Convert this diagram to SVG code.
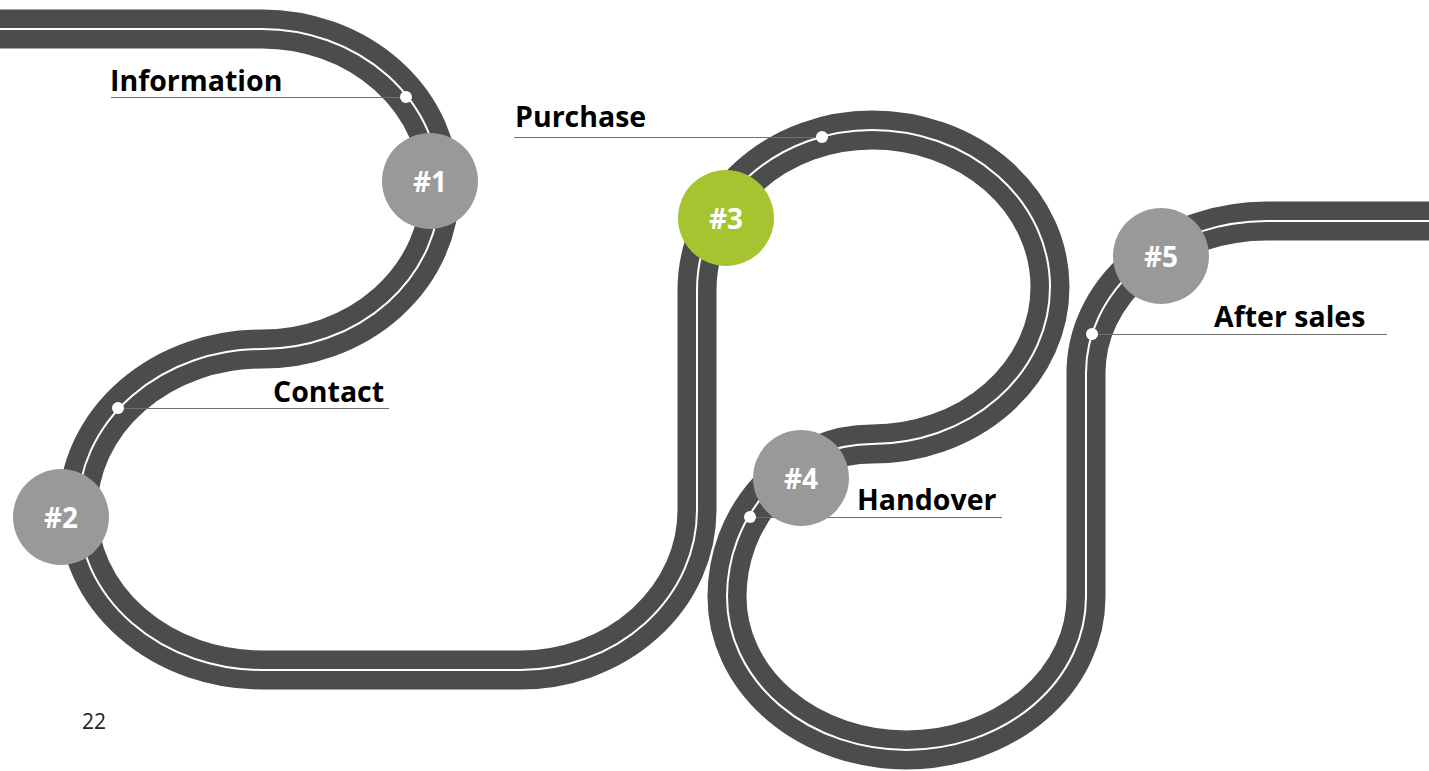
<svg xmlns="http://www.w3.org/2000/svg" width="1429" height="771" viewBox="0 0 1429 771">
<style>
.road{fill:none;stroke:#4b4d4c;stroke-width:39}
.lane{fill:none;stroke:#ffffff;stroke-width:2}
.lead{stroke:#6f6f6f;stroke-width:1.2}
.dot{fill:#ffffff}
.node{fill:#999999}
.nodeg{fill:#a6c42f}
.num{font-family:"Open Sans","Liberation Sans",sans-serif;font-weight:700;font-size:28px;fill:#ffffff;text-anchor:middle}
.lbl{font-family:"Open Sans","Liberation Sans",sans-serif;font-weight:700;font-size:28.5px;fill:#000000}
.page{font-family:"Open Sans","Liberation Sans",sans-serif;font-size:21px;fill:#222222}
</style>
<defs>
<path id="route" d="M -5 29 L 262 29 A 178 160 0 0 1 262 349 A 184 160.5 0 0 0 262 670 L 520 670 A 177 160 0 0 0 697 510 L 697 290 A 175 160 0 0 1 872 130 A 178 157 0 0 1 1050 287 A 178 157 0 0 1 872 444 A 145 153 0 0 0 727 597 A 179.5 153 0 0 0 1086 597 L 1086 373 A 181 152 0 0 1 1267 221 L 1435 221"/>
</defs>
<g id="connectors">
<use href="#route" class="road"/>
<use href="#route" class="lane"/>
</g>
<g id="label-information">
<line class="lead" x1="111" y1="97.5" x2="406" y2="97.5"/>
<circle class="dot" cx="406" cy="97" r="6"/>
<text class="lbl" x="110" y="91">Information</text>
</g>
<g id="label-contact">
<line class="lead" x1="118" y1="408.5" x2="389" y2="408.5"/>
<circle class="dot" cx="118" cy="408" r="6"/>
<text class="lbl" x="273" y="402">Contact</text>
</g>
<g id="label-purchase">
<line class="lead" x1="514" y1="137.5" x2="822" y2="137.5"/>
<circle class="dot" cx="822" cy="137" r="6"/>
<text class="lbl" x="515" y="127">Purchase</text>
</g>
<g id="label-handover">
<line class="lead" x1="750" y1="517.5" x2="1002" y2="517.5"/>
<circle class="dot" cx="750" cy="517" r="6"/>
<text class="lbl" x="857" y="510">Handover</text>
</g>
<g id="label-aftersales">
<line class="lead" x1="1092" y1="334.5" x2="1387" y2="334.5"/>
<circle class="dot" cx="1092" cy="334" r="6"/>
<text class="lbl" x="1214" y="327">After sales</text>
</g>
<g id="node-1">
<circle class="node" cx="430" cy="181" r="48"/>
<text class="num" x="430" y="192">#1</text>
</g>
<g id="node-2">
<circle class="node" cx="61" cy="517" r="48"/>
<text class="num" x="61" y="528">#2</text>
</g>
<g id="node-3">
<circle class="nodeg" cx="726" cy="218" r="48"/>
<text class="num" x="726" y="229">#3</text>
</g>
<g id="node-4">
<circle class="node" cx="801" cy="478" r="48"/>
<text class="num" x="801" y="489">#4</text>
</g>
<g id="node-5">
<circle class="node" cx="1161" cy="256" r="48"/>
<text class="num" x="1161" y="267">#5</text>
</g>
<text class="page" x="82" y="729">22</text>
</svg>
